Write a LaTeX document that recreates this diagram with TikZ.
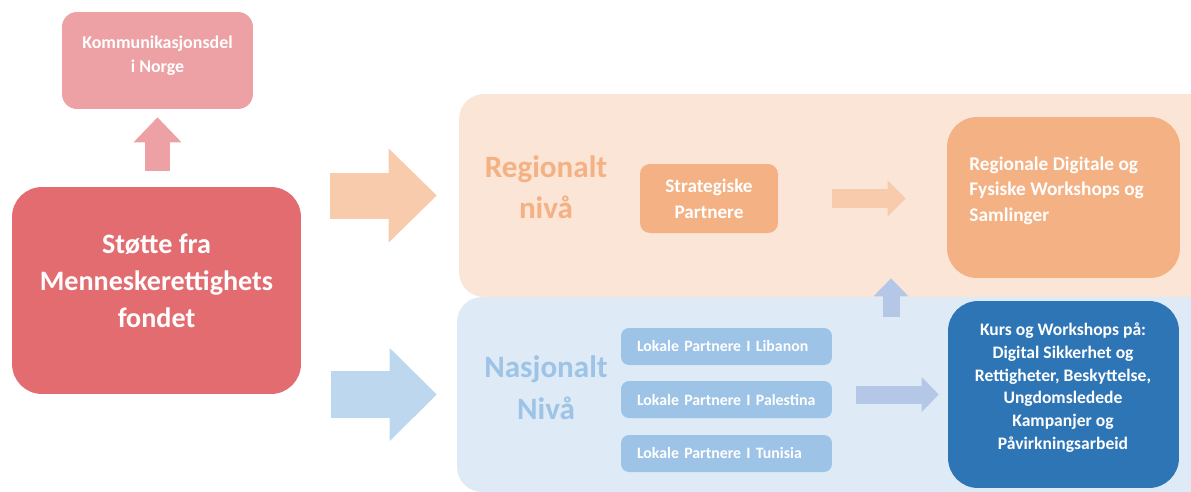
\documentclass[tikz,border=0pt]{standalone}
\usepackage{fontspec}
\setmainfont{Carlito}
\usetikzlibrary{arrows.meta}

\definecolor{rosa}{HTML}{EDA1A4}
\definecolor{rod}{HTML}{E36C71}
\definecolor{ferskenlys}{HTML}{FBE5D6}
\definecolor{fersken}{HTML}{F8CBAD}
\definecolor{oransje}{HTML}{F4B183}
\definecolor{blalys}{HTML}{DEEBF7}
\definecolor{bla}{HTML}{BDD7EE}
\definecolor{blamid}{HTML}{9DC3E6}
\definecolor{blapil}{HTML}{B4C7E7}
\definecolor{blamork}{HTML}{2E75B6}

\begin{document}
\begin{tikzpicture}[x=0.02cm, y=-0.02cm,
  boks/.style={fill=#1, rounded corners=0.3cm, inner sep=0pt},
  tekst/.style={text=white, align=center, inner sep=0pt},
  lokal/.style={fill=blamid, rounded corners=0.16cm, minimum width=4.22cm, minimum height=0.74cm,
    text width=3.58cm, inner xsep=0.32cm, inner ysep=0pt, align=left, text=white,
    font=\bfseries\fontsize{9}{11}\selectfont},
  pil/.style n args={4}{draw=#1, line width=#2, -{Triangle[width=#3, length=#4, line width=0pt]}}]
\useasboundingbox (0,0) rectangle (1191,491);

% paneler
\node[boks=ferskenlys, rounded corners=0.5cm, minimum width=15.12cm, minimum height=4.06cm] (regional) at (837,195.5) {};
\node[boks=blalys, rounded corners=0.5cm, minimum width=15.16cm, minimum height=3.9cm] (nasjonal) at (836,394.5) {};

% venstre side
\node[boks=rosa, minimum width=3.82cm, minimum height=1.94cm] (komm) at (157.5,60.5) {};
\node[tekst, font=\bfseries\fontsize{10.2}{13.7}\selectfont] (kommtxt) at (157.5,55.5) {Kommunikasjonsdel\\i Norge};
\node[boks=rod, rounded corners=0.6cm, minimum width=5.78cm, minimum height=4.14cm] (stotte) at (156.5,290.5) {};
\node[tekst, font=\bfseries\fontsize{16}{21}\selectfont] (stottetxt) at (156.5,281) {Støtte fra\\Menneskerettighets\\fondet};

% regionalt
\node[tekst, text=oransje, font=\bfseries\fontsize{17.7}{23.3}\selectfont] (regtxt) at (546,187) {Regionalt\\nivå};
\node[boks=oransje, rounded corners=0.2cm, minimum width=2.76cm, minimum height=1.38cm, text=white, align=center,
  font=\bfseries\fontsize{10.9}{14.8}\selectfont] (strat) at (709,198.5) {Strategiske\\Partnere};
\node[boks=oransje, rounded corners=0.6cm, minimum width=4.66cm, minimum height=3.22cm] (regbox) at (1063.5,197.5) {};
\node[tekst, anchor=west, align=left, font=\bfseries\fontsize{11}{14.5}\selectfont] (regboxtxt) at (969,190.7)
  {Regionale Digitale og\\Fysiske Workshops og\\Samlinger};

% nasjonalt
\node[tekst, text=blamid, font=\bfseries\fontsize{17.7}{23.8}\selectfont] (nastxt) at (546,388) {Nasjonalt\\Nivå};
\foreach \i/\y/\land in {1/346.5/Libanon, 2/399.5/Palestina, 3/453.5/Tunisia}
  \node[lokal] (lok\i) at (726.5,\y) {Lokale Partnere I \land};
\node[boks=blamork, rounded corners=0.6cm, minimum width=4.62cm, minimum height=3.74cm] (kurs) at (1063.5,394.5) {};
\node[tekst, font=\bfseries\fontsize{10}{13}\selectfont] (kurstxt) at (1063,387.6)
  {Kurs og Workshops på:\\Digital Sikkerhet og\\Rettigheter, Beskyttelse,\\Ungdomsledede\\Kampanjer og\\Påvirkningsarbeid};

% piler
\draw[pil={rosa}{0.5cm}{0.96cm}{0.5cm}, shorten <=0.32cm, shorten >=0.16cm] (komm.south |- stotte.north) -- (komm.south);
\draw[pil={fersken}{0.92cm}{1.88cm}{0.96cm}, shorten <=0.58cm, shorten >=0.44cm] (stotte.east |- regional.west) -- (regional.west);
\draw[pil={bla}{0.94cm}{1.86cm}{0.94cm}, shorten <=0.6cm, shorten >=0.4cm] (stotte.east |- nasjonal.west) -- (nasjonal.west);
\draw[pil={fersken}{0.38cm}{0.72cm}{0.36cm}, shorten <=1.08cm, shorten >=0.82cm] (strat.east) -- (regbox.west |- strat.east);
\draw[pil={blapil}{0.36cm}{0.7cm}{0.34cm}, shorten <=0.48cm, shorten >=0.18cm] (lok2.east |- kurs.west) -- (kurs.west);
\coordinate (opp) at (891,317);
\draw[pil={blapil}{0.34cm}{0.7cm}{0.36cm}] (opp) -- (opp |- regbox.south);
\end{tikzpicture}
\end{document}
